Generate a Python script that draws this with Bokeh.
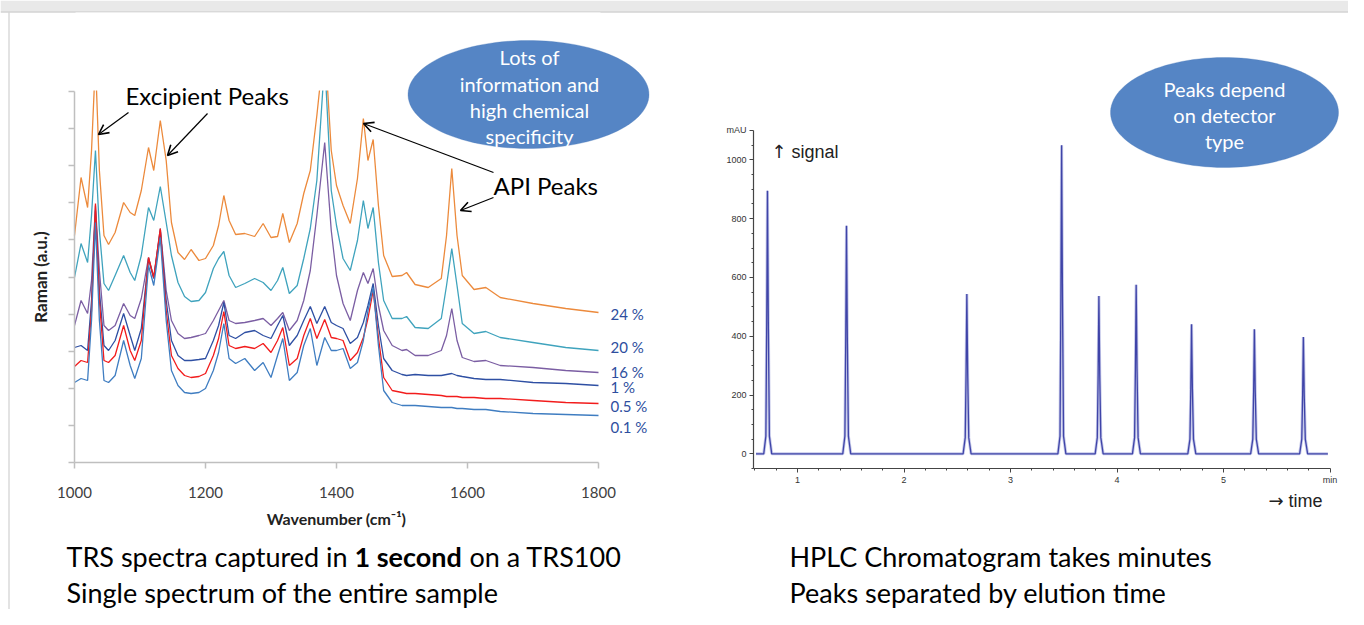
import numpy as np
from bokeh.plotting import figure
from bokeh.models import (Label, Arrow, OpenHead, PolyAnnotation, BoxAnnotation, FixedTicker,
                          CustomJSTickFormatter, LinearAxis, Range1d)
from bokeh.embed import file_html
from bokeh.resources import INLINE

# ---------------- data: Raman spectra (a.u.) ----------------
wavenumber = [1000, 1010, 1020, 1026, 1032, 1038, 1045, 1052, 1062, 1075,
              1085, 1092, 1102, 1113, 1121, 1131, 1140, 1148, 1158, 1168,
              1178, 1190, 1200, 1212, 1220, 1228, 1236, 1246, 1260, 1275,
              1288, 1300, 1310, 1318, 1328, 1340, 1350, 1360, 1370, 1382,
              1392, 1400, 1410, 1421, 1432, 1441, 1448, 1456, 1464, 1472,
              1485, 1500, 1507, 1520, 1540, 1560, 1568, 1576, 1584, 1592,
              1610, 1628, 1650, 1700, 1750, 1800]

raman_24 = [227, 285, 255, 312, 402, 292, 227, 218, 230, 260,
            250, 247, 272, 315, 292, 342, 302, 240, 210, 203,
            213, 202, 204, 217, 237, 267, 242, 228, 229, 226,
            239, 225, 226, 249, 220, 239, 269, 292, 347, 422,
            312, 277, 257, 239, 284, 344, 302, 323, 257, 207,
            186, 187, 190, 178, 175, 184, 227, 294, 227, 187,
            173, 175, 165, 159, 154, 150]

raman_20 = [185, 219, 200, 247, 312, 232, 179, 172, 187, 207,
            190, 182, 207, 255, 242, 276, 240, 207, 180, 166,
            161, 162, 170, 194, 204, 211, 187, 175, 179, 184,
            180, 172, 182, 195, 169, 177, 204, 234, 282, 402,
            272, 237, 204, 192, 222, 262, 234, 255, 200, 162,
            144, 144, 146, 135, 134, 144, 177, 214, 177, 139,
            129, 131, 125, 120, 115, 112]

raman_16 = [137, 162, 149, 182, 257, 192, 137, 132, 137, 159,
            147, 144, 164, 205, 185, 234, 172, 142, 129, 124,
            125, 127, 129, 142, 152, 162, 142, 139, 140, 142,
            144, 137, 144, 150, 132, 142, 162, 192, 247, 320,
            232, 187, 159, 142, 172, 190, 179, 194, 157, 132,
            117, 112, 113, 107, 107, 112, 127, 154, 122, 105,
            101, 102, 97, 95, 92, 90]

raman_1 = [115, 117, 112, 162, 252, 172, 117, 112, 122, 149,
           127, 112, 134, 204, 184, 232, 162, 122, 107, 102,
           102, 103, 104, 122, 137, 160, 127, 124, 130, 132,
           127, 124, 137, 147, 117, 127, 142, 156, 139, 156,
           140, 137, 134, 119, 125, 140, 157, 179, 137, 104,
           92, 88, 87, 88, 87, 87, 88, 89, 87, 86,
           84, 83, 83, 80, 79, 77]

raman_05 = [96, 102, 100, 152, 259, 162, 102, 100, 107, 137,
            112, 102, 122, 205, 185, 234, 152, 107, 94, 87,
            85, 86, 89, 107, 124, 151, 117, 114, 116, 114,
            119, 110, 122, 135, 97, 104, 127, 144, 124, 143,
            125, 124, 122, 102, 110, 125, 144, 172, 125, 85,
            72, 70, 69, 69, 68, 67, 66, 66, 66, 65,
            65, 64, 64, 62, 60, 59]

raman_01 = [80, 84, 82, 142, 240, 142, 82, 80, 87, 122,
            97, 84, 104, 197, 177, 225, 142, 92, 77, 70,
            69, 70, 74, 92, 110, 139, 104, 99, 104, 92,
            100, 85, 107, 124, 82, 90, 117, 134, 97, 125,
            112, 112, 114, 94, 100, 122, 152, 175, 117, 72,
            60, 57, 57, 57, 56, 55, 55, 55, 54, 54,
            53, 53, 51, 49, 48, 47]

series_labels = ["24 %", "20 %", "16 %", "1 %", "0.5 %", "0.1 %"]
series_values = [raman_24, raman_20, raman_16, raman_1, raman_05, raman_01]
series_colors = ["#EC8A3C", "#3FA3BD", "#7B5EA3", "#2E4FA3", "#F21C1C", "#3F7DC1"]

# ---------------- data: HPLC chromatogram (mAU vs min) ----------------
hplc_time = [0.61,
             0.683, 0.703, 0.711, 0.718, 0.726, 0.736, 0.758,
             1.425, 1.445, 1.453, 1.460, 1.468, 1.478, 1.500,
             2.555, 2.575, 2.583, 2.590, 2.598, 2.608, 2.630,
             3.445, 3.465, 3.473, 3.480, 3.488, 3.498, 3.520,
             3.795, 3.815, 3.823, 3.830, 3.838, 3.848, 3.870,
             4.145, 4.165, 4.173, 4.180, 4.188, 4.198, 4.220,
             4.665, 4.685, 4.693, 4.700, 4.708, 4.718, 4.740,
             5.255, 5.275, 5.283, 5.290, 5.298, 5.308, 5.330,
             5.715, 5.735, 5.743, 5.750, 5.758, 5.768, 5.790,
             5.98]
hplc_signal = [0,
               0, 60, 448, 895, 448, 60, 0,
               0, 60, 388, 776, 388, 60, 0,
               0, 55, 272, 544, 272, 55, 0,
               0, 60, 525, 1050, 525, 60, 0,
               0, 55, 268, 537, 268, 55, 0,
               0, 55, 288, 575, 288, 55, 0,
               0, 50, 220, 441, 220, 50, 0,
               0, 50, 212, 424, 212, 50, 0,
               0, 50, 198, 397, 198, 50, 0,
               0]

FONT = "Lato"
W, H = 1348, 609

# one canvas; default ranges are page pixels (y downwards) for the annotations
p = figure(width=W, height=H, x_range=Range1d(0, W), y_range=Range1d(H, 0),
           output_backend="svg", toolbar_location=None,
           x_axis_location=None, y_axis_location=None,
           min_border=0, min_border_left=0, min_border_right=0,
           min_border_top=0, min_border_bottom=0)
p.outline_line_color = None
p.grid.visible = False

# Raman scales: 1000..1800 cm-1 over px 74..598, 0..371 a.u. over px 462..91
KX = 800.0 / 524.0
p.extra_x_ranges["wn"] = Range1d(1000 - 74 * KX, 1000 + (W - 74) * KX)
p.extra_y_ranges["ram"] = Range1d(462 - H, 462)
# HPLC scales: 1 min per 106.5 px (1 min at px 797), 1150 mAU over 338 px (0 at px 453.3)
KT = 1.0 / 106.5
KM = 1150.0 / 338.0
p.extra_x_ranges["t"] = Range1d(1 - 797 * KT, 1 + (W - 797) * KT)
p.extra_y_ranges["mau"] = Range1d((453.3 - H) * KM, 453.3 * KM)

# ---- top strip / border of the slide
p.add_layout(BoxAnnotation(left=0, right=W, top=0, bottom=11, fill_color="#E9E9E9",
                           fill_alpha=1, line_color=None, level="underlay"))
p.add_layout(BoxAnnotation(left=0, right=W, top=11, bottom=12, fill_color="#BDBDBD",
                           fill_alpha=1, line_color=None, level="underlay"))
p.add_layout(BoxAnnotation(left=8, right=9, top=12, bottom=H, fill_color="#C8C8C8",
                           fill_alpha=1, line_color=None, level="underlay"))

# ---------------- Raman spectra ----------------
for vals, col in zip(series_values, series_colors):
    p.line(wavenumber, vals, line_color=col, line_width=1.3,
           x_range_name="wn", y_range_name="ram")

# clip spectra at the top of the Raman axes
p.add_layout(BoxAnnotation(left=75, right=600, top=12, bottom=90, fill_color="white",
                           fill_alpha=1, line_color=None))

xa = LinearAxis(x_range_name="wn", y_range_name="ram", fixed_location=0, bounds=(1000, 1800),
                ticker=FixedTicker(ticks=[1000, 1200, 1400, 1600, 1800], minor_ticks=[]))
ya = LinearAxis(x_range_name="wn", y_range_name="ram", fixed_location=1000, bounds=(0, 371),
                ticker=FixedTicker(ticks=[round(37.1 * i, 1) for i in range(11)], minor_ticks=[]),
                formatter=CustomJSTickFormatter(code="return '';"))
for ax in (xa, ya):
    ax.axis_line_color = "#BFBFBF"
    ax.axis_line_width = 1.5
    ax.major_tick_line_color = "#BFBFBF"
    ax.major_tick_line_width = 1.5
    ax.major_tick_in = 0
    ax.major_tick_out = 6
    ax.minor_tick_line_color = None
    ax.axis_label_text_font = FONT
    ax.axis_label_text_font_style = "bold"
    ax.axis_label_text_color = "#222222"
xa.major_label_text_font = FONT
xa.major_label_text_font_size = "15px"
xa.major_label_text_color = "#404040"
xa.major_label_standoff = 18
xa.axis_label = "Wavenumber (cm\u207b\u00b9)"
xa.axis_label_text_font_size = "16px"
xa.axis_label_standoff = 8
ya.axis_label = "Raman (a.u.)"
ya.axis_label_text_font_size = "17px"
ya.axis_label_standoff = 18
p.add_layout(xa, "below")
p.add_layout(ya, "left")

label_py = [313, 346, 371, 386, 405, 426]
for txt, py in zip(series_labels, label_py):
    p.add_layout(Label(x=610, y=py, text=txt, text_font=FONT,
                       text_font_size="15px", text_color="#2E4E9E",
                       text_baseline="middle", text_align="left"))

t = np.linspace(0, 2 * np.pi, 120)

def ellipse(cx, cy, rx, ry):
    p.add_layout(PolyAnnotation(xs=list(cx + rx * np.cos(t)), ys=list(cy + ry * np.sin(t)),
                                fill_color="#5585C5", fill_alpha=1.0,
                                line_color="#4C7BBB", line_width=1))

ellipse(528, 94, 120.5, 54)
for txt, py in zip(["Lots of", "information and", "high chemical", "specificity"],
                   [56, 83, 109, 135]):
    p.add_layout(Label(x=529, y=py, text=txt, text_font=FONT,
                       text_font_size="20px", text_color="white",
                       text_align="center", text_baseline="middle"))

p.add_layout(Label(x=125, y=95, text="Excipient Peaks", text_font=FONT,
                   text_font_size="24px", text_color="black",
                   text_align="left", text_baseline="middle"))
p.add_layout(Label(x=493, y=185, text="API Peaks", text_font=FONT,
                   text_font_size="24px", text_color="black",
                   text_align="left", text_baseline="middle"))
for (x0, y0, x1, y1) in [(128, 112, 98, 134), (207, 113, 167, 155),
                         (493, 172, 363, 123), (493, 197, 460, 210)]:
    p.add_layout(Arrow(x_start=x0, y_start=y0, x_end=x1, y_end=y1,
                       line_color="black", line_width=1.2,
                       end=OpenHead(size=10, line_width=1.6, line_color="black")))

CAP = "27px"
p.add_layout(Label(x=66, y=556, text="TRS spectra captured in", text_font=FONT,
                   text_font_size=CAP, text_color="black",
                   text_align="left", text_baseline="middle"))
p.add_layout(Label(x=354, y=556, text="1 second", text_font=FONT,
                   text_font_size=CAP, text_font_style="bold", text_color="black",
                   text_align="left", text_baseline="middle"))
p.add_layout(Label(x=469, y=556, text="on a TRS100", text_font=FONT,
                   text_font_size=CAP, text_color="black",
                   text_align="left", text_baseline="middle"))
p.add_layout(Label(x=66, y=592, text="Single spectrum of the entire sample",
                   text_font=FONT, text_font_size=CAP, text_color="black",
                   text_align="left", text_baseline="middle"))

# ---------------- HPLC chromatogram ----------------
p.line(hplc_time, hplc_signal, line_color="#9FA3DA", line_width=3.0, line_alpha=0.6,
       x_range_name="t", y_range_name="mau")
p.line(hplc_time, hplc_signal, line_color="#3F44A8", line_width=1.3,
       x_range_name="t", y_range_name="mau")

xb = LinearAxis(x_range_name="t", y_range_name="mau", fixed_location=-50, bounds=(0.587, 6.0),
                ticker=FixedTicker(ticks=[1, 2, 3, 4, 5, 6],
                                   minor_ticks=[0.6, 0.8, 1.2, 1.4, 1.6, 1.8, 2.2, 2.4, 2.6,
                                                2.8, 3.2, 3.4, 3.6, 3.8, 4.2, 4.4, 4.6, 4.8,
                                                5.2, 5.4, 5.6, 5.8]),
                formatter=CustomJSTickFormatter(code="return tick == 6 ? 'min' : String(tick);"))
yb = LinearAxis(x_range_name="t", y_range_name="mau", fixed_location=0.587, bounds=(-50, 1100),
                ticker=FixedTicker(ticks=[0, 200, 400, 600, 800, 1000, 1100],
                                   minor_ticks=[-50, 50, 100, 150, 250, 300, 350, 450, 500,
                                                550, 650, 700, 750, 850, 900, 950, 1050]),
                formatter=CustomJSTickFormatter(code="return tick == 1100 ? 'mAU' : String(tick);"))
for ax in (xb, yb):
    ax.axis_line_color = "#444444"
    ax.axis_line_width = 1.2
    ax.major_tick_line_color = "#444444"
    ax.minor_tick_line_color = "#444444"
    ax.major_tick_in = 0
    ax.major_tick_out = 4
    ax.minor_tick_in = 0
    ax.minor_tick_out = 2
    ax.major_label_text_font = "Liberation Sans"
    ax.major_label_text_font_size = "9px"
    ax.major_label_text_color = "#333333"
    ax.major_label_standoff = 3
p.add_layout(xb, "below")
p.add_layout(yb, "left")

for (x0, glyph, word, py) in [(771, "\u2191", "signal", 151), (1268, "\u2192", "time", 500)]:
    p.add_layout(Label(x=x0, y=py, text=glyph, text_font="DejaVu Sans",
                       text_font_size="18px", text_color="#222222",
                       text_align="left", text_baseline="middle"))
    p.add_layout(Label(x=x0 + 20, y=py, text=word, text_font="Liberation Sans",
                       text_font_size="18px", text_color="#222222",
                       text_align="left", text_baseline="middle"))

ellipse(1224, 112, 114, 55)
for txt, py in zip(["Peaks depend", "on detector", "type"], [88, 114, 140]):
    p.add_layout(Label(x=1224, y=py, text=txt, text_font=FONT,
                       text_font_size="20px", text_color="white",
                       text_align="center", text_baseline="middle"))

p.add_layout(Label(x=789, y=556, text="HPLC Chromatogram takes minutes",
                   text_font=FONT, text_font_size=CAP, text_color="black",
                   text_align="left", text_baseline="middle"))
p.add_layout(Label(x=789, y=592, text="Peaks separated by elution time",
                   text_font=FONT, text_font_size=CAP, text_color="black",
                   text_align="left", text_baseline="middle"))

open("out.html", "w").write(file_html(p, INLINE))
